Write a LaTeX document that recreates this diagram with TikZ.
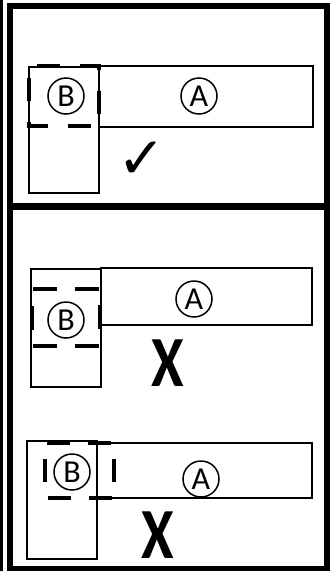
\documentclass[tikz,border=0pt]{standalone}
\usepackage{fontspec}
\newfontfamily\tagfont{Carlito}
\newfontfamily\symfont{DejaVu Sans}

\begin{document}
\begin{tikzpicture}[x=1pt,y=-1pt,
    frame/.style={line width=6pt},
    plate/.style={line width=1.6pt},
    zone/.style={line width=4pt,line join=miter},
    tag/.style={circle,draw,line width=1.5pt,minimum size=36pt,inner sep=0pt,
      font=\tagfont\fontsize{32}{32}\selectfont},
    okmark/.style={inner sep=0pt,font=\symfont\fontsize{58}{58}\selectfont},
    nomark/.style={inner sep=0pt,font=\tagfont\bfseries\fontsize{72}{72}\selectfont,xscale=0.82}]
    \useasboundingbox (0,0) rectangle (330,571);
    % outer frame and divider
    \draw[line width=3pt] (1.5,0) -- (1.5,571);
    \draw[frame] (10,6) rectangle (326.5,568.5);
    \draw[line width=6.5pt] (10,206.5) -- (326.5,206.5);
    % panel 1: zone fits inside B
    \draw[plate] (29,67) rectangle (99,193);
    \draw[plate] (99,66) rectangle (313,127);
    \draw[zone,dash pattern=on 23pt off 20.33pt,dash phase=35.33pt]
      (29,66) -- (99,66) -- (99,126) -- (29,126) -- cycle;
    \node[tag] (tagB1) at (66,96) {B};
    \node[tag] (tagA1) at (199,96) {A};
    \node[okmark] (ok1) at (142,160) {✓};
    % panel 2: zone moved down
    \draw[plate] (31,269) rectangle (101,387);
    \draw[plate] (101,268) rectangle (312,325);
    \draw[zone,dash pattern=on 24pt off 17.67pt,dash phase=40.67pt]
      (32,289) -- (100,289) -- (100,346) -- (32,346) -- cycle;
    \node[tag] (tagB2) at (66,320) {B};
    \node[tag] (tagA2) at (194,299) {A};
    \node[nomark] (no2) at (168,363) {X};
    % panel 3: zone moved right
    \draw[plate] (27,441) rectangle (97,559);
    \draw[plate] (97,443) rectangle (312,498);
    \draw[zone,dash pattern=on 23pt off 18.33pt,dash phase=39.33pt]
      (45,443) -- (114,443) -- (114,498) -- (45,498) -- cycle;
    \node[tag] (tagB3) at (72,472) {B};
    \node[tag] (tagA3) at (201,479) {A};
    \node[nomark] (no3) at (158,535) {X};
\end{tikzpicture}
\end{document}
